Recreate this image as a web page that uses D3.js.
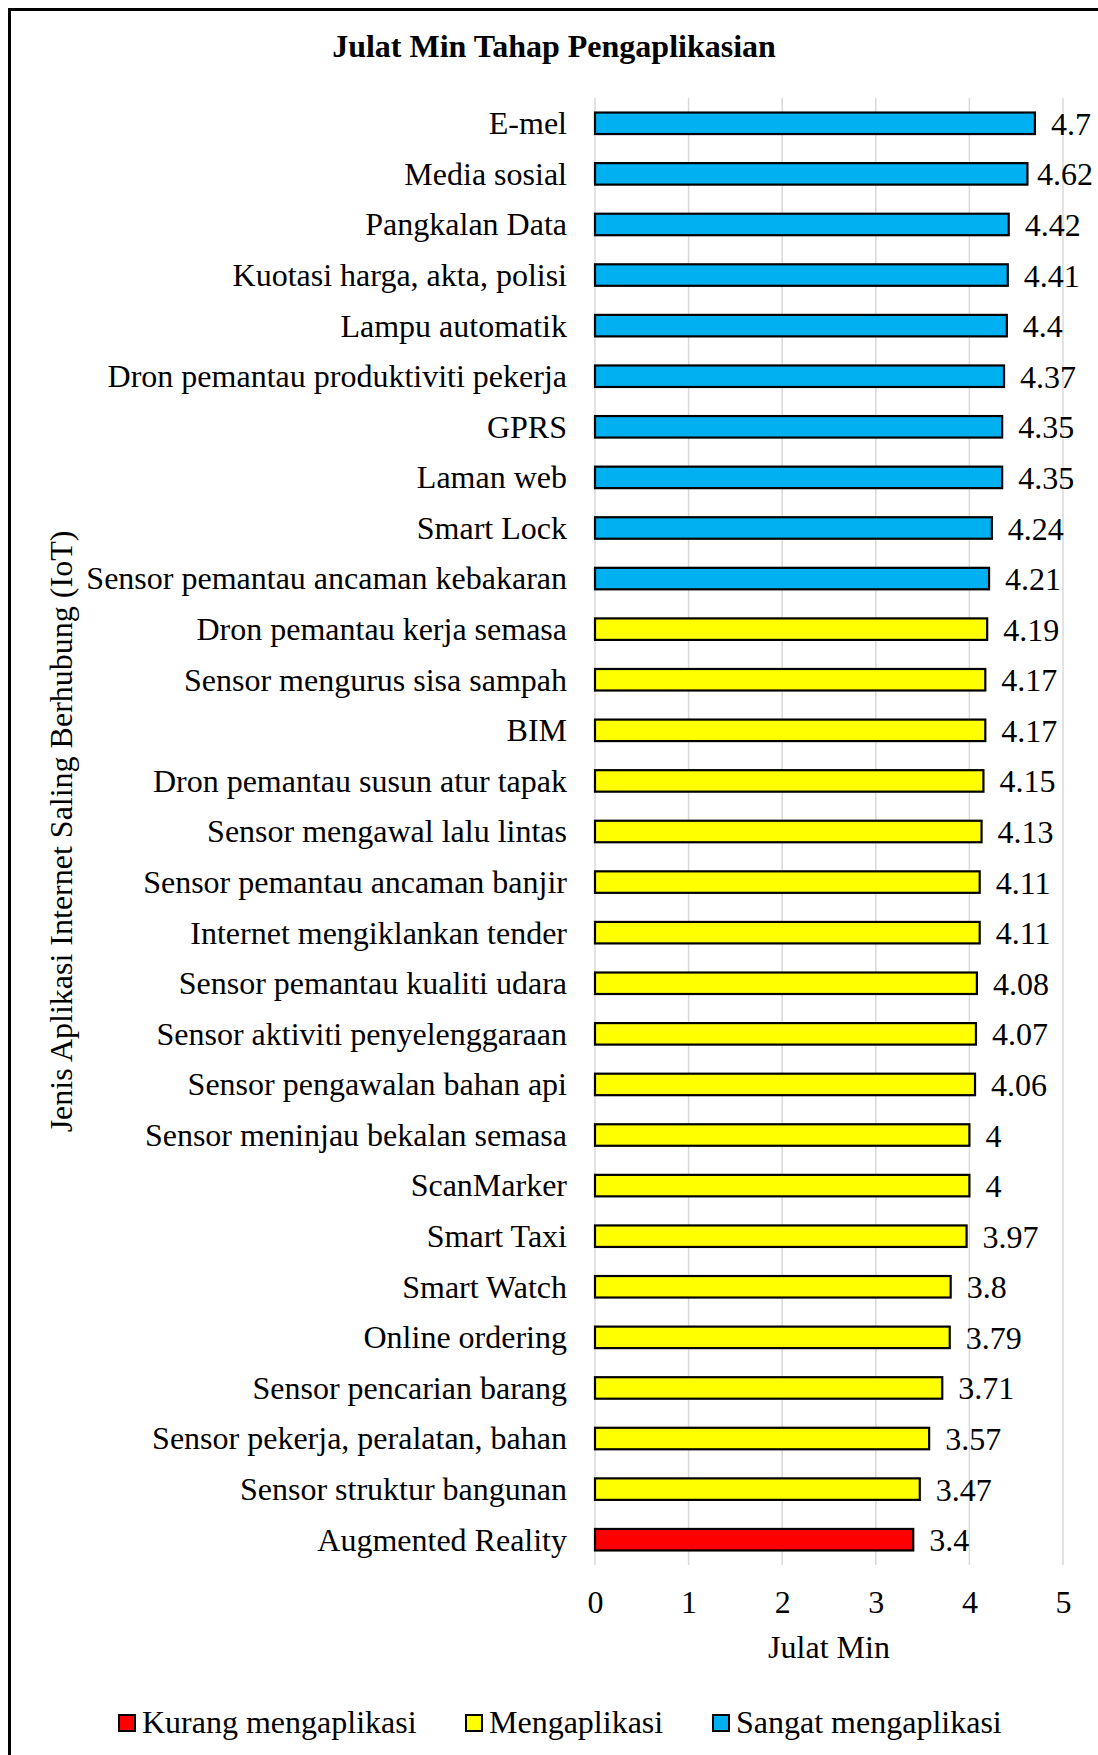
<!DOCTYPE html>
<html>
<head>
<meta charset="utf-8">
<script src="https://cdn.jsdelivr.net/npm/d3@7"></script>
<style>
  html, body { margin: 0; padding: 0; background: #fff; }
  svg { display: block; }
  text { font-family: "Liberation Serif", "Times New Roman", serif; fill: #000; }
</style>
</head>
<body>
<svg id="chart" width="1098" height="1755"></svg>
<script>
// IoT application types, ordered from highest to lowest mean score
const categories = [
  "E-mel", "Media sosial", "Pangkalan Data", "Kuotasi harga, akta, polisi",
  "Lampu automatik", "Dron pemantau produktiviti pekerja", "GPRS", "Laman web",
  "Smart Lock", "Sensor pemantau ancaman kebakaran", "Dron pemantau kerja semasa",
  "Sensor mengurus sisa sampah", "BIM", "Dron pemantau susun atur tapak",
  "Sensor mengawal lalu lintas", "Sensor pemantau ancaman banjir",
  "Internet mengiklankan tender", "Sensor pemantau kualiti udara",
  "Sensor aktiviti penyelenggaraan", "Sensor pengawalan bahan api",
  "Sensor meninjau bekalan semasa", "ScanMarker", "Smart Taxi", "Smart Watch",
  "Online ordering", "Sensor pencarian barang", "Sensor pekerja, peralatan, bahan",
  "Sensor struktur bangunan", "Augmented Reality"
];
const values = [
  4.7, 4.62, 4.42, 4.41, 4.4, 4.37, 4.35, 4.35, 4.24, 4.21,
  4.19, 4.17, 4.17, 4.15, 4.13, 4.11, 4.11, 4.08, 4.07, 4.06,
  4, 4, 3.97, 3.8, 3.79, 3.71, 3.57, 3.47, 3.4
];
// Application level of each item (0 = Kurang, 1 = Mengaplikasi, 2 = Sangat)
const levels = [
  2, 2, 2, 2, 2, 2, 2, 2, 2, 2,
  1, 1, 1, 1, 1, 1, 1, 1, 1, 1,
  1, 1, 1, 1, 1, 1, 1, 1, 0
];
const levelNames = ["Kurang mengaplikasi", "Mengaplikasi", "Sangat mengaplikasi"];
const levelColors = ["#FF0000", "#FFFF00", "#00B0F0"];
const xTicks = [0, 1, 2, 3, 4, 5];

const chartTitle = "Julat Min Tahap Pengaplikasian";
const xTitle = "Julat Min";
const yTitle = "Jenis Aplikasi Internet Saling Berhubung (IoT)";

const svg = d3.select("#chart");
const FS = 32;

// Outer frame (top and left edges)
svg.append("path")
  .attr("d", "M9.5,1755 L9.5,9.5 L1098,9.5")
  .attr("fill", "none")
  .attr("stroke", "#000")
  .attr("stroke-width", 3);

const plot = { left: 595, right: 1063, top: 98, bottom: 1565 };

const x = d3.scaleLinear().domain([0, 5]).range([plot.left, plot.right]);
const y = d3.scaleBand()
  .domain(categories)
  .range([plot.top, plot.bottom])
  .paddingInner(0.575)
  .paddingOuter(0.2875);

// Vertical gridlines
svg.append("g").selectAll("line")
  .data(xTicks)
  .join("line")
  .attr("x1", d => x(d)).attr("x2", d => x(d))
  .attr("y1", plot.top).attr("y2", plot.bottom)
  .attr("stroke", "#d9d9d9")
  .attr("stroke-width", 1.5);

// X axis tick labels
const xAxis = d3.axisBottom(x).tickValues(xTicks).tickSize(0).tickPadding(0).tickFormat(d3.format("d"));
const xg = svg.append("g").attr("transform", `translate(0,${1613})`).call(xAxis);
xg.select(".domain").remove();
xg.selectAll("text")
  .attr("y", 0).attr("dy", 0)
  .style("font-size", FS + "px")
  .style("font-family", "'Liberation Serif', 'Times New Roman', serif")
  .attr("fill", "#000");

// Category labels
const yAxis = d3.axisLeft(y).tickSize(0).tickPadding(0);
const yg = svg.append("g").attr("transform", `translate(567,0)`).call(yAxis);
yg.select(".domain").remove();
yg.selectAll("text")
  .attr("x", 0)
  .attr("dy", "0.34em")
  .style("font-size", FS + "px")
  .style("font-family", "'Liberation Serif', 'Times New Roman', serif")
  .attr("fill", "#000");

const data = categories.map((c, i) => ({ c, v: values[i], lv: levels[i] }));

// Bars
svg.append("g").selectAll("rect")
  .data(data)
  .join("rect")
  .attr("x", x(0))
  .attr("y", d => y(d.c))
  .attr("width", d => x(d.v) - x(0))
  .attr("height", y.bandwidth())
  .attr("fill", d => levelColors[d.lv])
  .attr("stroke", "#000")
  .attr("stroke-width", 2.2);

// Value labels at the end of each bar, kept inside the chart area
const labelLimit = 1093;
svg.append("g").selectAll("text")
  .data(data)
  .join("text")
  .attr("y", d => y(d.c) + y.bandwidth() / 2)
  .attr("dy", "0.36em")
  .style("font-size", FS + "px")
  .text(d => String(d.v))
  .each(function (d) {
    const w = this.getComputedTextLength();
    let px = x(d.v) + 16;
    if (px + w > labelLimit) px = labelLimit - w;
    d3.select(this).attr("x", px);
  });

// Titles
svg.append("text")
  .attr("x", 554).attr("y", 57)
  .attr("text-anchor", "middle")
  .style("font-size", FS + "px")
  .style("font-weight", "bold")
  .text(chartTitle);

svg.append("text")
  .attr("x", (plot.left + plot.right) / 2).attr("y", 1658)
  .attr("text-anchor", "middle")
  .style("font-size", FS + "px")
  .text(xTitle);

svg.append("text")
  .attr("transform", `translate(72,${(plot.top + plot.bottom) / 2}) rotate(-90)`)
  .attr("text-anchor", "middle")
  .style("font-size", FS + "px")
  .text(yTitle);

// Legend
const legendX = [119, 466, 713];
const legend = svg.append("g").selectAll("g")
  .data(levelNames)
  .join("g")
  .attr("transform", (d, i) => `translate(${legendX[i]},1715)`);
legend.append("rect")
  .attr("x", 0).attr("y", 0)
  .attr("width", 16).attr("height", 16)
  .attr("fill", (d, i) => levelColors[i])
  .attr("stroke", "#000")
  .attr("stroke-width", 2);
legend.append("text")
  .attr("x", 23).attr("y", 18)
  .style("font-size", FS + "px")
  .text(d => d);
</script>
</body>
</html>
